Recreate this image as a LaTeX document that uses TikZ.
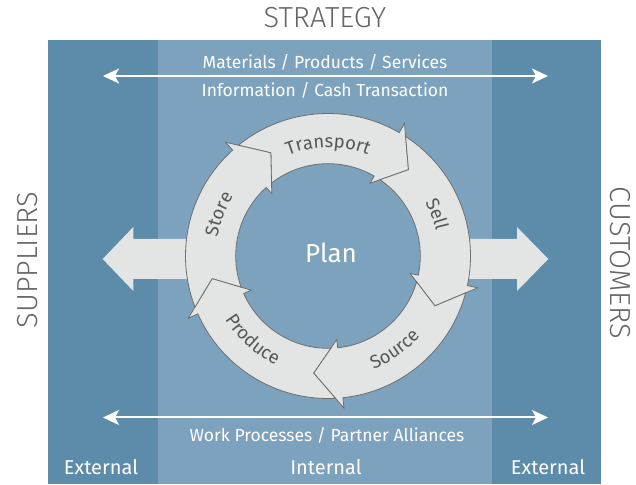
\documentclass[tikz,border=0pt]{standalone}
\usepackage{fontspec}
\setmainfont{Fira Sans}
\newfontfamily\firalight{Fira Sans Light}
\usetikzlibrary{arrows.meta,decorations.text}
\definecolor{outerblue}{HTML}{5D8BAA}
\definecolor{innerblue}{HTML}{7DA2BE}
\definecolor{ringfill}{HTML}{E3E4E4}
\definecolor{ringline}{HTML}{6E6E6E}
\definecolor{ringtext}{HTML}{575757}
\definecolor{graytext}{HTML}{666666}
\tikzset{
  sidelabel/.style={text=graytext, font=\firalight\fontsize{29}{29}\selectfont, inner sep=0pt},
  whitelabel/.style={text=white, font=\fontsize{17.5}{17.5}\selectfont, inner sep=0pt},
  zonelabel/.style={text=white, font=\fontsize{20}{20}\selectfont, inner sep=0pt},
  flowline/.style={draw=white, line width=2pt, {Stealth[length=16pt,width=15pt,inset=4pt]}-{Stealth[length=16pt,width=15pt,inset=4pt]}},
  ringarrow/.style={fill=ringfill, draw=ringline, line width=0.8pt, line join=miter},
  blockarrow/.style={fill=ringfill},
  ringword/.style={decorate, decoration={text along path, text align=center}}
}
\begin{document}
\begin{tikzpicture}[x=1pt,y=1pt]
\useasboundingbox (0,0) rectangle (636,484);
% zones
\fill[outerblue] (48,0) rectangle (601,444);
\fill[innerblue] (157.5,0) rectangle (491.5,444);
% side labels
\node[sidelabel] (strategy) at (325,466) {STRATEGY};
\node[sidelabel, rotate=90] (suppliers) at (28,224) {SUPPLIERS};
\node[sidelabel, rotate=-90] (customers) at (620,221) {CUSTOMERS};
% top and bottom flows
\coordinate (tl) at (103,408);
\coordinate (tr) at (548,408);
\draw[flowline] (tl) -- (tr);
\node[whitelabel] (materials) at (325,422) {Materials / Products / Services};
\node[whitelabel] (information) at (325,394) {Information / Cash Transaction};
\coordinate (bl) at (103,66.5);
\coordinate (br) at (548,66.5);
\draw[flowline] (bl) -- (br);
\node[whitelabel] (work) at (327,49) {Work Processes / Partner Alliances};
% zone labels
\node[zonelabel] (extl) at (101,17) {External};
\node[zonelabel] (intl) at (326,17) {Internal};
\node[zonelabel] (extr) at (548,17) {External};
% block arrows
\fill[blockarrow] (102.7,225) -- (133.3,257) -- (133.3,245) -- (215,245) -- (215,205) -- (133.3,205) -- (133.3,193) -- cycle;
\fill[blockarrow] (548.3,225) -- (517,257) -- (517,245) -- (440,245) -- (440,205) -- (517,205) -- (517,193) -- cycle;
% ring
\begin{scope}[shift={(328,228)}]
\foreach \h in {60,-12,-84,-156,132}{
  \pgfmathsetmacro\tt{\h+72}
  \path[ringarrow] ({\tt-3}:142.5) arc[start angle={\tt-3}, end angle=\h, radius=142.5]
    -- (\h:153) -- ({\h-13}:118) -- (\h:84) -- (\h:92.3)
    arc[start angle=\h, end angle={\tt-4.28}, radius=92.3]
    -- ({\tt-13}:118) -- cycle;
}
\node[text=white, font=\fontsize{26}{26}\selectfont, inner sep=0pt] (plan) at (3,3) {Plan};
\path[ringword, decoration={text={|\color{ringtext}\fontsize{18.5}{18.5}\selectfont|Transport}}]
  (120:108.5) arc[start angle=120, end angle=60, radius=108.5];
\path[ringword, decoration={text={|\color{ringtext}\fontsize{18.5}{18.5}\selectfont|Sell}}]
  (42:111) arc[start angle=42, end angle=0, radius=111];
\path[ringword, decoration={text={|\color{ringtext}\fontsize{18.5}{18.5}\selectfont|Store}}]
  (180:112) arc[start angle=180, end angle=138, radius=112];
\path[ringword, decoration={text={|\color{ringtext}\fontsize{18.5}{18.5}\selectfont|Source}}]
  (-85:122) arc[start angle=-85, end angle=-24, radius=122];
\path[ringword, decoration={text={|\color{ringtext}\fontsize{18.5}{18.5}\selectfont|Produce}}]
  (-162:121) arc[start angle=-162, end angle=-102, radius=121];
\end{scope}
\end{tikzpicture}
\end{document}
